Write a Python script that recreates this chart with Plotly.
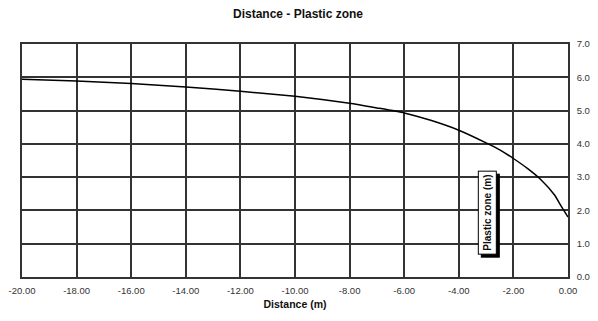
import plotly.graph_objects as go

distance = [-20, -18, -16, -14, -12, -10, -8, -7, -6, -5, -4, -3, -2.5, -2, -1.5, -1, -0.5, -0.25, 0]
plastic_zone = [5.94, 5.89, 5.81, 5.71, 5.58, 5.43, 5.22, 5.08, 4.93, 4.70, 4.41, 4.03, 3.82, 3.56, 3.27, 2.93, 2.47, 2.13, 1.80]

x_ticks = [-20, -18, -16, -14, -12, -10, -8, -6, -4, -2, 0]
x_labels = ["-20.00", "-18.00", "-16.00", "-14.00", "-12.00", "-10.00", "-8.00", "-6.00", "-4.00", "-2.00", "0.00"]
y_ticks = [0, 1, 2, 3, 4, 5, 6, 7]
y_labels = ["0.0", "1.0", "2.0", "3.0", "4.0", "5.0", "6.0", "7.0"]

font_family = "Liberation Sans, Arial, sans-serif"

fig = go.Figure()
fig.add_trace(go.Scatter(
    x=distance, y=plastic_zone, mode="lines",
    line=dict(color="black", width=1.5, shape="spline", smoothing=0.5),
    showlegend=False, hoverinfo="skip",
))

# the page body adds an 8px margin, so the figure is 8px smaller than the window
grid_col = "#333333"
fig.update_layout(
    width=590, height=313,
    margin=dict(l=14, r=30, t=36, b=44, autoexpand=False),
    paper_bgcolor="white", plot_bgcolor="white",
    font=dict(family=font_family, size=9, color="#333333"),
    title=dict(text="<b>Distance - Plastic zone</b>", x=(298 - 8) / 590, xanchor="center",
               y=1 - 6 / 313, yanchor="middle",
               font=dict(family=font_family, size=12, color="#111111")),
    xaxis=dict(range=[-20, 0], tickvals=x_ticks, ticktext=x_labels, automargin=False,
               showgrid=True, gridcolor=grid_col, gridwidth=1.6,
               showline=True, linecolor=grid_col, linewidth=1.6, mirror=True,
               zeroline=False, ticks="", ticklabelstandoff=4,
               tickfont=dict(family=font_family, size=9.5, color="#333333"),
               title=dict(text="<b>Distance (m)</b>", standoff=5,
                          font=dict(family=font_family, size=10.5, color="#111111"))),
    yaxis=dict(range=[0, 7], tickvals=y_ticks, ticktext=y_labels, side="right", automargin=False,
               showgrid=True, gridcolor=grid_col, gridwidth=1.6,
               showline=True, linecolor=grid_col, linewidth=1.6, mirror=True,
               zeroline=False, ticks="", ticklabelstandoff=5,
               tickfont=dict(family=font_family, size=9.5, color="#333333")),
)

# y-axis title as a framed box with a shadow, placed inside the plot
common = dict(xref="paper", yref="paper", x=0.853, y=0.275, xanchor="center", yanchor="middle",
              showarrow=False, textangle=-90, text="<b>Plastic zone (m)</b>",
              font=dict(family=font_family, size=10), borderpad=3, borderwidth=1)
fig.add_annotation(**common, bgcolor="black", bordercolor="black", xshift=2.5, yshift=-2.5,
                   font_color="black")
fig.add_annotation(**common, bgcolor="white", bordercolor="black", font_color="#111111")

fig.write_html("out.html")
